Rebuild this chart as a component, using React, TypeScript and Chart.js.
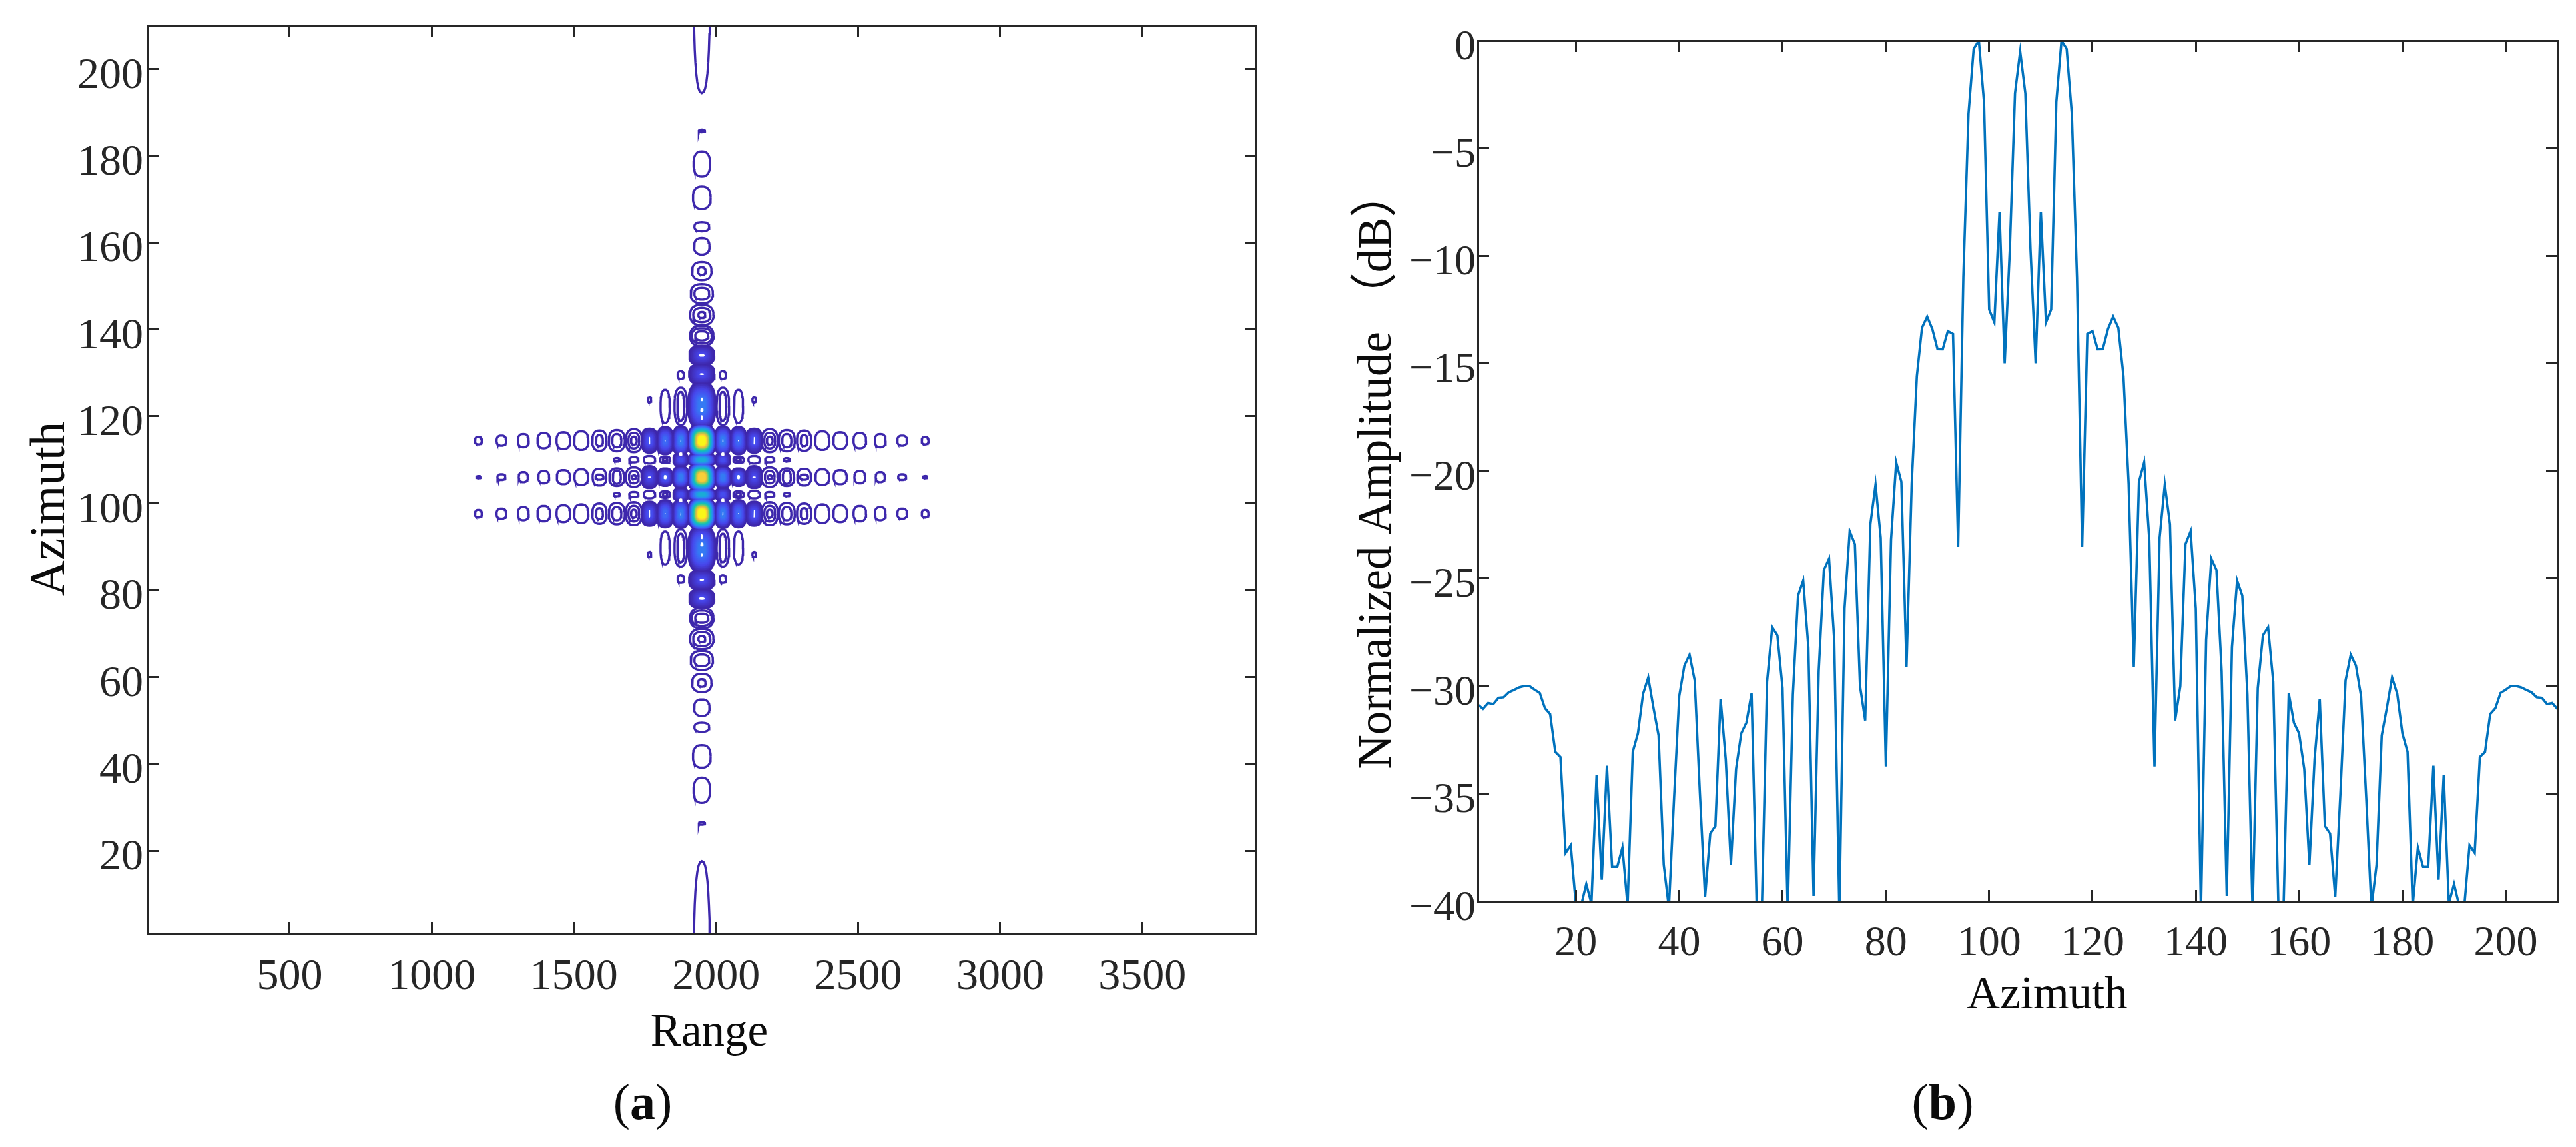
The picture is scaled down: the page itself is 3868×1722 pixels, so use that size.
import React, { useEffect, useRef } from "react";
import { Chart, registerables } from "chart.js";

Chart.register(...registerables);

/* ---------- data ---------- */
const rangeTicks = [500, 1000, 1500, 2000, 2500, 3000, 3500];
const azimuthTicks = [20, 40, 60, 80, 100, 120, 140, 160, 180, 200];
const amplitudeTicks = [0, -5, -10, -15, -20, -25, -30, -35, -40];
const rangeCentre = 1950;
const azimuthCentre = 106;

/* open contour rings, one quadrant: range offset, azimuth offset, half width, half height */
const contourRings = [
  [786, 8.4, 12, 0.87], [705, 8.4, 17, 1.17], [628, 8.4, 19, 1.53], [556, 8.4, 22, 1.78],
  [487, 8.4, 24, 1.94], [424, 8.4, 25, 2.14], [360, 8.4, 25, 2.34], [360, 8.4, 12, 1.27],
  [299, 8.4, 28, 2.45], [299, 8.4, 16, 1.53], [239, 8.4, 28, 2.65], [239, 8.4, 19, 1.8], [239, 8.4, 10, 0.92],
  [786, 0, 7, 0.25], [705, 0, 14, 0.66], [628, 0, 16, 1.17], [556, 0, 19, 1.43],
  [487, 0, 23, 1.63], [424, 0, 24, 1.83], [360, 0, 24, 1.94], [360, 0, 14, 0.6],
  [299, 0, 26, 2.04], [299, 0, 14, 1.53], [239, 0, 28, 2.24], [239, 0, 17, 1.43], [239, 0, 7, 0.4],
  [299, 4, 10, 0.4], [239, 4, 16, 0.6], [184, 4, 20, 0.87], [129, 4, 18, 0.77], [129, 4, 8, 0.4],
  [184, 17.8, 6, 0.56], [129, 16.3, 16, 3.8], [74, 16.3, 22, 4.3], [74, 16.3, 12, 3.3], [74, 23.5, 11, 0.87],
  [0, 79.7, 11, 0.3], [0, 72.1, 29, 2.9], [0, 64.3, 31, 2.6], [0, 57.6, 26, 1.05], [0, 53.1, 27, 1.9],
  [0, 47.4, 34, 2.1], [0, 47.4, 13, 0.88], [0, 42.2, 39, 2.2], [0, 42.2, 26, 1.35],
  [0, 37.3, 41, 2.34], [0, 37.3, 30, 1.64], [0, 37.3, 12, 0.7],
  [0, 32.5, 41, 2.34], [0, 32.5, 35, 1.75], [0, 32.5, 23, 1.05],
  [0, 112, 28, 23.6],
];

/* filled lobes, one quadrant: range offset, azimuth offset, half width, half height, peak level */
const filledLobes = [
  [0, 28, 44, 2.22, 0.1], [0, 23.7, 45, 2.34, 0.1], [0, 16.5, 48, 5.35, 0.25],
  [74, 8.4, 28, 3.3, 0.25], [129, 8.4, 28, 3.16, 0.2], [184, 8.4, 28, 2.8, 0.13],
  [74, 0, 28, 2.5, 0.25], [129, 0, 26, 2.04, 0.16], [184, 0, 28, 2.55, 0.1],
  [74, 4, 26, 1.5, 0.12],
  [0, 4, 48, 1.5, 0.42], [0, 0, 48, 3.4, 0.88], [0, 8.4, 48, 3.8, 0.99],
];

/* small unfilled gaps between contour levels inside the lobes */
const lobeGaps = [
  [0, 17.9, 4, 0.41], [0, 15.5, 6, 0.46], [0, 13.7, 4, 0.56],
  [184, 8.4, 2.5, 0.9], [129, 8.4, 2, 0.15], [74, 8.4, 2, 0.4],
  [129, 0, 5.5, 0.5], [184, 0, 6, 0.15], [74, 5.3, 6, 0.4],
  [0, 28, 10, 0.3], [0, 23.7, 8, 0.2],
];

const amplitudeDb = [
  -30.86, -31.06, -30.79, -30.84, -30.55, -30.52, -30.29, -30.18, -30.06, -30.0,
  -30.0, -30.17, -30.32, -31.03, -31.3, -33.06, -33.3, -37.75, -37.4, -40.2,
  -40.2, -39.2, -40.1, -34.14, -39.0, -33.7, -38.4, -38.4, -37.5, -40.2,
  -33.06, -32.2, -30.36, -29.6, -31.0, -32.3, -38.3, -40.3, -35.2, -30.47,
  -29.05, -28.54, -29.74, -35.0, -39.8, -36.85, -36.5, -30.6, -33.4, -38.3,
  -33.85, -32.2, -31.7, -30.34, -40.3, -40.3, -29.8, -27.27, -27.64, -30.1,
  -40.5, -30.4, -25.8, -25.1, -28.2, -39.75, -29.3, -24.6, -24.08, -27.85,
  -40.5, -26.4, -22.8, -23.4, -30.0, -31.6, -22.47, -20.63, -23.1, -33.74,
  -23.2, -19.6, -20.5, -29.1, -20.6, -15.6, -13.34, -12.83, -13.41, -14.34,
  -14.35, -13.5, -13.63, -23.53, -11.0, -3.4, -0.38, 0, -2.85, -12.5,
  -13.1, -7.97, -15.0, -9.7, -2.45, -0.5,
  -2.45, -9.7, -15.0, -7.97, -13.1, -12.5, -2.85, 0, -0.38, -3.4,
  -11.0, -23.53, -13.63, -13.5, -14.35, -14.34, -13.41, -12.83, -13.34, -15.6,
  -20.6, -29.1, -20.5, -19.6, -23.2, -33.74, -23.1, -20.63, -22.47, -31.6,
  -30.0, -23.4, -22.8, -26.4, -40.5, -27.85, -24.08, -24.6, -29.3, -39.75,
  -28.2, -25.1, -25.8, -30.4, -40.5, -30.1, -27.64, -27.27, -29.8, -40.3,
  -40.3, -30.34, -31.7, -32.2, -33.85, -38.3, -33.4, -30.6, -36.5, -36.85,
  -39.8, -35.0, -29.74, -28.54, -29.05, -30.47, -35.2, -40.3, -38.3, -32.3,
  -31.0, -29.6, -30.36, -32.2, -33.06, -40.2, -37.5, -38.4, -38.4, -33.7,
  -39.0, -34.14, -40.1, -39.2, -40.2, -40.2, -37.4, -37.75, -33.3, -33.06,
  -31.3, -31.03, -30.32, -30.17, -30.0, -30.0, -30.06, -30.18, -30.29, -30.52,
  -30.55, -30.84, -30.79, -31.06,
];
const azimuthSamples = amplitudeDb.map((_, i) => i + 1);

/* ---------- styles ---------- */
const W = 3868, H = 1722, SPLIT = 1934;
const AXIS = "#262626";
const INK = "#0b0b0b";
const SERIF = '"Liberation Serif", "Noto Sans CJK SC", serif';
const TICK_LEN = 17;
const parula = ["#3E26A8", "#4746EB", "#3D68F5", "#2B8CF0", "#1CA8DC", "#12BEB9", "#3FCB8F", "#9BC95B", "#E3BD3F", "#FCD336", "#F9FB15"];

function hexToRgb(h: string) {
  return [1, 3, 5].map((i) => parseInt(h.slice(i, i + 2), 16));
}
function levelColor(l: number) {
  const t = Math.max(0, Math.min(0.9999, l)) * (parula.length - 1);
  const i = Math.floor(t), f = t - i;
  const a = hexToRgb(parula[i]), b = hexToRgb(parula[i + 1]);
  return `rgb(${a.map((v, k) => Math.round(v + (b[k] - v) * f)).join(",")})`;
}
function outline(cx: number, cy: number, rx: number, ry: number, p = 2.5) {
  const pts = [];
  const n = 36;
  for (let i = 0; i <= n; i++) {
    const a = (i / n) * Math.PI * 2;
    const c = Math.cos(a), s = Math.sin(a);
    pts.push({
      x: cx + rx * Math.sign(c) * Math.pow(Math.abs(c), 2 / p),
      y: cy + ry * Math.sign(s) * Math.pow(Math.abs(s), 2 / p),
    });
  }
  return pts;
}
function mirrored(dR: number, dAz: number) {
  const xs = dR === 0 ? [1] : [1, -1];
  const ys = dAz === 0 ? [1] : [1, -1];
  const out: [number, number][] = [];
  xs.forEach((a) => ys.forEach((b) => out.push([rangeCentre + a * dR, azimuthCentre + b * dAz])));
  return out;
}

function contourDatasets() {
  const lines: any[] = [];
  for (const [dR, dAz, rx, ry] of contourRings) {
    for (const [cx, cy] of mirrored(dR, dAz)) {
      lines.push({ data: outline(cx, cy, rx, ry), showLine: true, pointRadius: 0, borderWidth: 3.4, borderColor: "#3D27AC", fill: false, tension: 0 });
    }
  }
  const fills: any[] = [];
  for (const [dR, dAz, rx, ry, peak] of filledLobes) {
    const steps = Math.ceil(peak * 40) + 6;
    for (let k = 0; k <= steps; k++) {
      const frac = k / steps;
      const level = peak * frac;
      const s = 1 - 0.72 * frac;
      for (const [cx, cy] of mirrored(dR, dAz)) {
        fills.push({
          lvl: level,
          data: outline(cx, cy, rx * s, ry * s, 2.7),
          showLine: true, pointRadius: 0, tension: 0,
          borderWidth: k === 0 ? 3 : 0,
          borderColor: "#3D27AC",
          backgroundColor: levelColor(level),
          fill: "shape",
        });
      }
    }
  }
  fills.sort((a, b) => a.lvl - b.lvl);
  const gaps: any[] = [];
  for (const [dR, dAz, rx, ry] of lobeGaps) {
    for (const [cx, cy] of mirrored(dR, dAz)) {
      gaps.push({ data: outline(cx, cy, rx, ry), showLine: true, pointRadius: 0, tension: 0, borderWidth: 0, backgroundColor: "#ffffff", fill: "shape" });
    }
  }
  return [...lines, ...fills, ...gaps].reverse();
}

/* ---------- axis helpers ---------- */
function axis(position: string, min: number, max: number, ticks: number[], fit: number, labelled: boolean, font: number, pad: number, shift: number, fmt?: (v: number) => string) {
  const horizontal = position === "bottom" || position === "top";
  return {
    type: "linear",
    position,
    min,
    max,
    afterBuildTicks: (s: any) => { s.ticks = ticks.map((value) => ({ value })); },
    afterFit: (s: any) => {
      if (horizontal) s.height = fit; else s.width = fit;
      s.paddingLeft = s.paddingRight = s.paddingTop = s.paddingBottom = 0;
    },
    border: { display: true, color: AXIS, width: 3, z: 1 },
    grid: { drawOnChartArea: false, drawTicks: true, tickLength: -TICK_LEN, color: AXIS, lineWidth: 3, z: 1 },
    ticks: {
      display: labelled,
      autoSkip: false,
      maxRotation: 0,
      minRotation: 0,
      padding: pad,
      labelOffset: shift,
      color: AXIS,
      font: { family: SERIF, size: font },
      callback: (v: any) => (fmt ? fmt(Number(v)) : String(v)),
    },
  };
}

type Label = { text: string; x: number; y: number; size: number; rotate?: boolean; parts?: [string, string, string] };

const textPlugin = {
  id: "placedText",
  afterDraw(chart: any, _a: any, opts: any) {
    const ctx = chart.ctx;
    for (const t of (opts.items || []) as Label[]) {
      ctx.save();
      ctx.fillStyle = INK;
      ctx.textBaseline = "alphabetic";
      ctx.translate(t.x, t.y);
      if (t.rotate) ctx.rotate(-Math.PI / 2);
      if (t.parts) {
        const [a, b, c] = t.parts;
        const reg = `${t.size}px ${SERIF}`, bold = `bold ${t.size}px ${SERIF}`;
        ctx.font = reg; const wa = ctx.measureText(a).width, wc = ctx.measureText(c).width;
        ctx.font = bold; const wb = ctx.measureText(b).width;
        let x = -(wa + wb + wc) / 2;
        ctx.textAlign = "left";
        ctx.font = reg; ctx.fillText(a, x, 0); x += wa;
        ctx.font = bold; ctx.fillText(b, x, 0); x += wb;
        ctx.font = reg; ctx.fillText(c, x, 0);
      } else {
        ctx.textAlign = "center";
        ctx.font = `${t.size}px ${SERIF}`;
        ctx.fillText(t.text, 0, 0);
      }
      ctx.restore();
    }
  },
};

function useChart(make: (c: HTMLCanvasElement) => Chart) {
  const ref = useRef<HTMLCanvasElement>(null);
  useEffect(() => {
    const chart = make(ref.current!);
    return () => chart.destroy();
  }, []);
  return ref;
}

const baseOptions = {
  responsive: false,
  animation: false,
  events: [],
};

function makeContour(c: HTMLCanvasElement) {
  const L = 222, T = 38, R = 1886, B = 1401;
  return new Chart(c, {
    type: "scatter",
    data: { datasets: contourDatasets() },
    plugins: [textPlugin],
    options: {
      ...baseOptions,
      layout: { padding: { top: T, left: 0, right: SPLIT - R, bottom: 0 } },
      plugins: {
        legend: { display: false },
        tooltip: { enabled: false },
        placedText: {
          items: [
            { text: "Range", x: 1065, y: 1570, size: 69 },
            { text: "Azimuth", x: 96, y: 764, size: 75, rotate: true },
            { text: "(a)", parts: ["(", "a", ")"], x: 965, y: 1680, size: 76 },
          ],
        },
      },
      scales: {
        x: axis("bottom", 1, 3900, rangeTicks, H - B, true, 66, 44, 0),
        y: axis("left", 1, 210, azimuthTicks, L, true, 66, 24, 11),
        xTop: axis("top", 1, 3900, rangeTicks, 0, false, 66, 0, 0),
        yRight: axis("right", 1, 210, azimuthTicks, 0, false, 66, 0, 0),
      },
    },
  } as any);
}

function makeProfile(c: HTMLCanvasElement) {
  const L = 2219 - SPLIT, T = 61, R = 3840 - SPLIT, B = 1353;
  const minus = (v: number) => (v < 0 ? `\u2212${-v}` : String(v));
  return new Chart(c, {
    type: "line",
    data: {
      labels: azimuthSamples,
      datasets: [{
        data: azimuthSamples.map((x, i) => ({ x, y: amplitudeDb[i] })),
        borderColor: "#0072BD",
        borderWidth: 3.6,
        pointRadius: 0,
        tension: 0,
        fill: false,
        borderJoinStyle: "miter",
      }],
    },
    plugins: [textPlugin],
    options: {
      ...baseOptions,
      layout: { padding: { top: T, left: 0, right: SPLIT - R, bottom: 0 } },
      plugins: {
        legend: { display: false },
        tooltip: { enabled: false },
        placedText: {
          items: [
            { text: "Azimuth", x: 3074 - SPLIT, y: 1514, size: 69 },
            { text: "Normalized Amplitude \uFF08dB\uFF09", x: 2088 - SPLIT, y: 705, size: 71, rotate: true },
            { text: "(b)", parts: ["(", "b", ")"], x: 2917 - SPLIT, y: 1680, size: 76 },
          ],
        },
      },
      scales: {
        x: axis("bottom", 1, 210, azimuthTicks, H - B, true, 64, 43, 0),
        y: axis("left", -40, 0, amplitudeTicks, L, true, 64, 20, 11, minus),
        xTop: axis("top", 1, 210, azimuthTicks, 0, false, 64, 0, 0),
        yRight: axis("right", -40, 0, amplitudeTicks, 0, false, 64, 0, 0),
      },
    },
  } as any);
}

export default function App() {
  const left = useChart(makeContour);
  const right = useChart(makeProfile);
  const style = (x: number): React.CSSProperties => ({ position: "absolute", left: x, top: 0, display: "block" });
  return (
    <div style={{ position: "absolute", left: 0, top: 0, width: W, height: H, background: "#fff", overflow: "hidden" }}>
      <canvas ref={left} width={SPLIT} height={H} style={style(0)} />
      <canvas ref={right} width={W - SPLIT} height={H} style={style(SPLIT)} />
    </div>
  );
}
